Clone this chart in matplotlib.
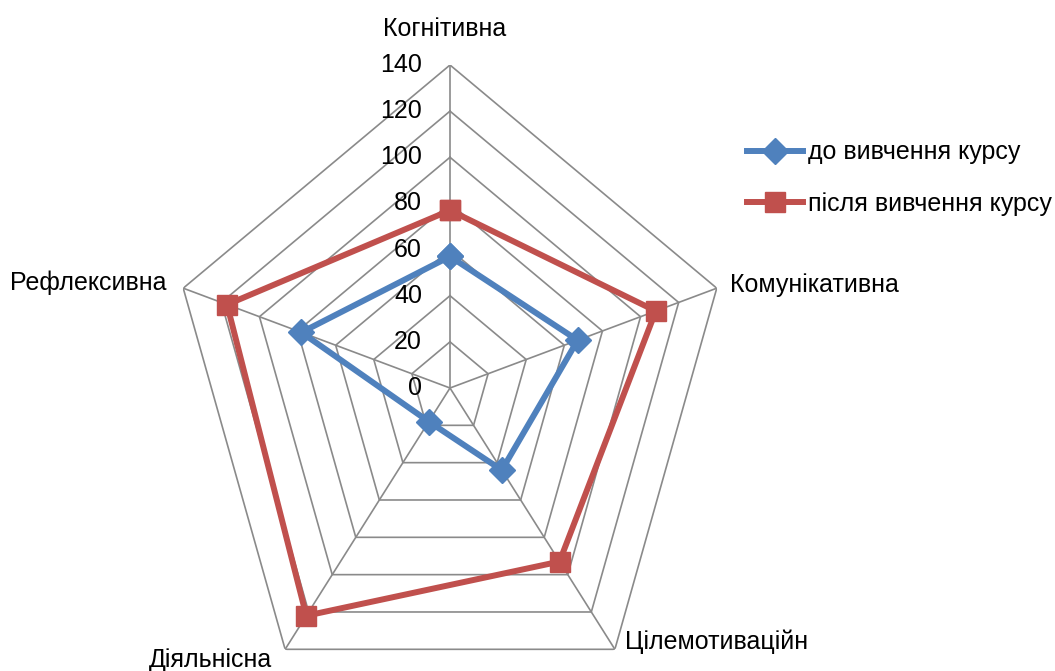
import numpy as np
import matplotlib
matplotlib.use("Agg")
import matplotlib.pyplot as plt
from matplotlib import font_manager
from matplotlib.transforms import offset_copy

# categories and values
categories = ["Когнітивна", "Комунікативна", "Цілемотиваційн", "Діяльнісна", "Рефлексивна"]
before = [57, 67, 44, 18, 78]     # до вивчення курсу
after = [77, 108, 93, 122, 117]   # після вивчення курсу
series_names = ["до вивчення курсу", "після вивчення курсу"]
r_ticks = [0, 20, 40, 60, 80, 100, 120, 140]

# narrow font like Calibri if present
fam = "Liberation Sans Narrow"
fs = 20
try:
    font_manager.findfont(fam, fallback_to_default=False)
except Exception:
    fam = "Liberation Sans"
    fs = 18
plt.rcParams["font.family"] = [fam, "DejaVu Sans"]

grid_c = "#8a8a8a"
blue = "#4F81BD"
red = "#C0504D"

n = len(categories)
angles = [2 * np.pi * i / n for i in range(n)]
ang_c = angles + angles[:1]

fig = plt.figure(figsize=(10.55, 6.71), dpi=100)
ax = fig.add_axes([169.5 / 1055, -40 / 671, 561 / 1055, 646 / 671], projection="polar")
ax.set_aspect("auto")
ax.set_theta_offset(np.pi / 2)
ax.set_theta_direction(-1)
ax.set_ylim(0, 140)
ax.grid(False)
ax.set_xticks([])
ax.set_yticks([])
ax.spines["polar"].set_visible(False)
ax.patch.set_visible(False)

# pentagon grid and spokes
for r in r_ticks[1:]:
    ax.plot(ang_c, [r] * (n + 1), color=grid_c, lw=1.2, zorder=1)
for a in angles:
    ax.plot([a, a], [0, 140], color=grid_c, lw=1.2, zorder=1)

l1, = ax.plot(ang_c, before + before[:1], color=blue, lw=4.3, marker="D", ms=13,
              label=series_names[0], zorder=3, clip_on=False)
l2, = ax.plot(ang_c, after + after[:1], color=red, lw=4.3, marker="s", ms=15,
              label=series_names[1], zorder=3, clip_on=False)

# r tick labels along the top spoke
tr = offset_copy(ax.transData, fig=fig, x=-28, y=0, units="dots")
for v in r_ticks:
    ax.text(0, v, str(v), transform=tr, ha="right", va="center", fontsize=fs)

# category labels
offs = [(-5, 36, "center"), (13, 3, "left"), (10, 8, "left"), (-75, -11, "center"), (-17, 5, "right")]
for a, lab, (dx, dy, ha) in zip(angles, categories, offs):
    t = offset_copy(ax.transData, fig=fig, x=dx, y=dy, units="dots")
    ax.text(a, 140, lab, transform=t, ha=ha, va="center", fontsize=fs)

fig.legend(handles=[l1, l2], loc="center left", bbox_to_anchor=(747 / 1055, 1 - 178 / 671),
           frameon=False, fontsize=fs, handlelength=2.0 * 20 / fs, handletextpad=0.2,
           labelspacing=1.1, borderpad=0, borderaxespad=0)

fig.savefig("out.png", dpi=100)
